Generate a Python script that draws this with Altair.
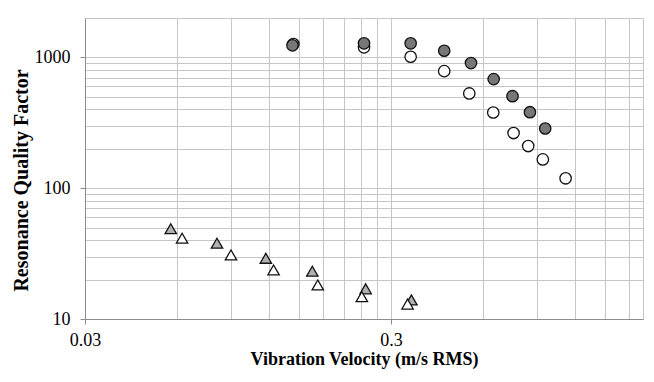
import altair as alt
import pandas as pd

# Data
wc_x = [0.144, 0.245, 0.348, 0.448, 0.541, 0.648, 0.755, 0.843, 0.941, 1.117]
wc_y = [1265, 1193, 1011, 785, 530, 379, 264, 210, 166, 119]
fc_x = [0.143, 0.245, 0.348, 0.448, 0.548, 0.650, 0.749, 0.854, 0.958]
fc_y = [1236, 1280, 1280, 1124, 904, 682, 505, 381, 286]
ft_x = [0.0572, 0.081, 0.117, 0.166, 0.248, 0.350]
ft_y = [49.0, 38.0, 29.1, 23.2, 17.0, 14.0]
wt_x = [0.0623, 0.090, 0.124, 0.173, 0.241, 0.340]
wt_y = [41.5, 30.9, 23.7, 18.2, 14.8, 13.0]

x_grid = [0.03, 0.06, 0.09, 0.12, 0.15, 0.18, 0.21, 0.24, 0.27,
          0.3, 0.6, 0.9, 1.2, 1.5, 1.8]
x_labels = [0.03, 0.3]
y_grid = [10, 20, 30, 40, 50, 60, 70, 80, 90,
          100, 200, 300, 400, 500, 600, 700, 800, 900, 1000, 2000]
y_labels = [10, 100, 1000]

FONT = "Liberation Serif"
GRID = "#c6c6c6"
AX = "#8c8c8c"

xs = alt.Scale(type="log", domain=[0.03, 2.0], nice=False)
ys = alt.Scale(type="log", domain=[10, 2000], nice=False)

def frame(xv, yv, name):
    return pd.DataFrame({"v": xv, "q": yv, "series": name})

df_all = pd.concat([frame(wc_x, wc_y, "open circles"), frame(fc_x, fc_y, "filled circles"),
                    frame(ft_x, ft_y, "filled triangles"), frame(wt_x, wt_y, "open triangles")])

grid_axis_x = alt.Axis(values=x_grid, grid=True, gridColor=GRID, gridWidth=1, labels=False,
                       ticks=False, domain=False, title=None, orient="bottom")
grid_axis_y = alt.Axis(values=y_grid, grid=True, gridColor=GRID, gridWidth=1, labels=False,
                       ticks=False, domain=False, title=None, orient="left")

grid_layer = alt.Chart(df_all).mark_point(opacity=0).encode(
    x=alt.X("v:Q", scale=xs, axis=grid_axis_x),
    y=alt.Y("q:Q", scale=ys, axis=grid_axis_y),
)

lab_axis_x = alt.Axis(values=x_labels, grid=False, format="~g", orient="bottom",
                      title="Vibration Velocity (m/s RMS)", labelFont=FONT, labelFontSize=18,
                      labelColor="#000", titleFont=FONT, titleFontSize=18, titleFontWeight="bold",
                      titleColor="#000", domainColor=AX, tickColor=AX, tickSize=5, labelPadding=7,
                      titlePadding=1, labelFlush=False)
lab_axis_y = alt.Axis(values=y_labels, grid=False, format="~g", orient="left",
                      title="Resonance Quality Factor", labelFont=FONT, labelFontSize=18,
                      labelColor="#000", titleFont=FONT, titleFontSize=20, titleFontWeight="bold",
                      titleColor="#000", domainColor=AX, tickColor=AX, tickSize=5, labelPadding=10,
                      titlePadding=3, titleY=162, labelFlush=False)

def pts(xv, yv, name, shape, fill, size):
    d = frame(xv, yv, name)
    return alt.Chart(d).mark_point(shape=shape, filled=True, fill=fill, stroke="#111",
                                   strokeWidth=1.3, size=size, opacity=1).encode(
        x=alt.X("v:Q", scale=xs, axis=lab_axis_x),
        y=alt.Y("q:Q", scale=ys, axis=lab_axis_y),
    )

layers = [
    pts(wc_x, wc_y, "open circles", "circle", "white", 130),
    pts(fc_x, fc_y, "filled circles", "circle", "#777777", 130),
    pts(ft_x, ft_y, "filled triangles", "triangle-up", "#b0b0b0", 130),
    pts(wt_x, wt_y, "open triangles", "triangle-up", "white", 130),
]

points = alt.layer(*layers)

chart = alt.layer(grid_layer, points).resolve_axis(x="independent", y="independent").properties(
    width=558, height=301,
    autosize=alt.AutoSizeParams(type="none"),
    padding={"left": 77, "top": 10, "right": 3, "bottom": 60},
).configure_view(stroke=GRID, strokeWidth=1)

chart.save("out.html", embed_options={"renderer": "svg", "actions": False})
